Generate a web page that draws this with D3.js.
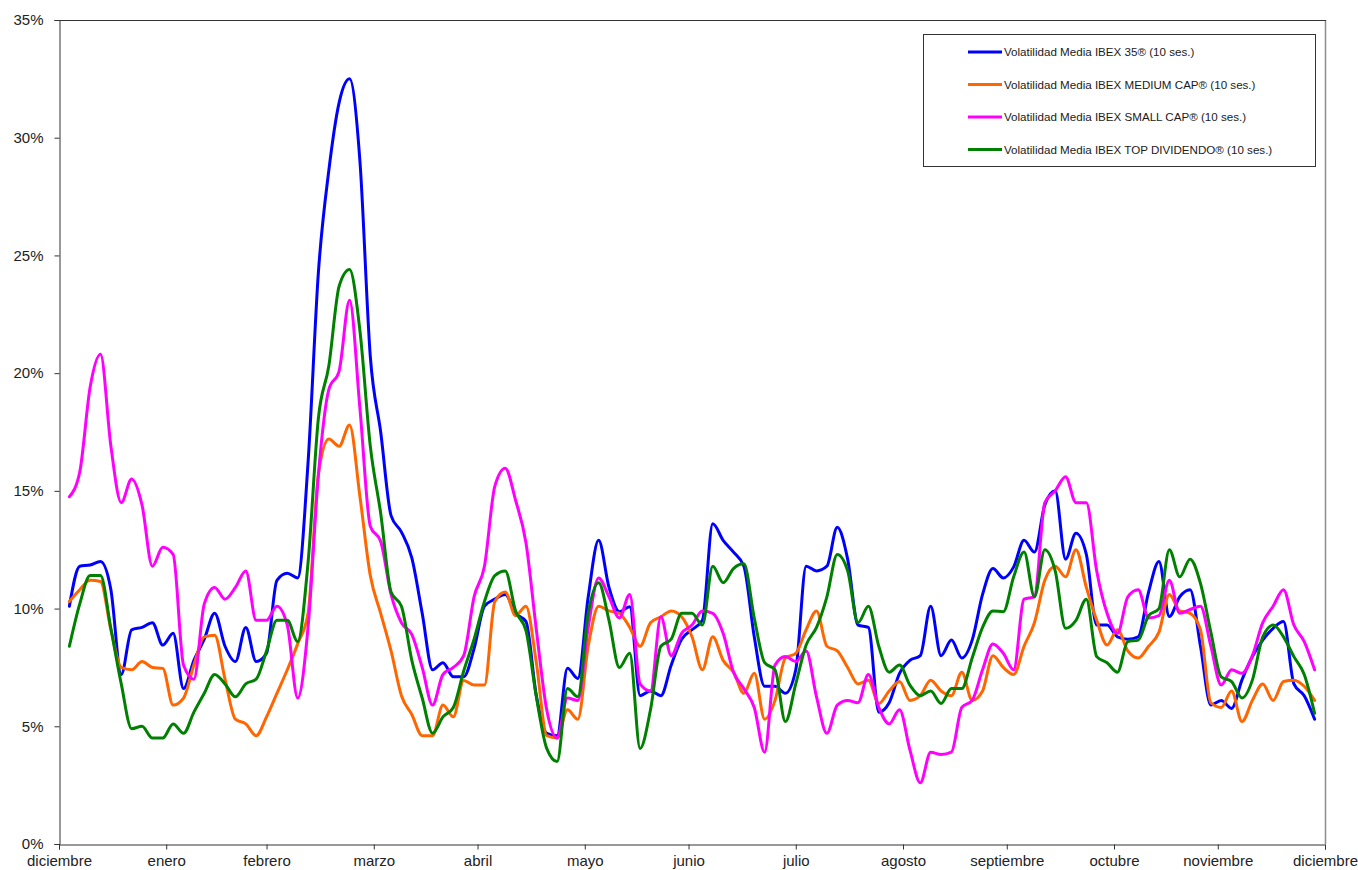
<!DOCTYPE html>
<html lang="es">
<head>
    <meta charset="UTF-8">
    <title>Volatilidad Media IBEX</title>
    <style>
        body { margin: 0; background: #fff; }
        svg { font-family: "Liberation Sans", Arial, sans-serif; }
    </style>
</head>
<body>

    <svg id="svg" width="1358" height="870"></svg>

    <script src="https://d3js.org/d3.v7.min.js"></script>
    <script>
        // etiquetas del eje x (fin de cada mes) y del eje y
        const meses = ["diciembre", "enero", "febrero", "marzo", "abril", "mayo", "junio",
            "julio", "agosto", "septiembre", "octubre", "noviembre", "diciembre"]
        const ticksY = [0, 5, 10, 15, 20, 25, 30, 35]

        // una observacion cada 3 dias, desde el 3 de enero de 2020
        const inicio = new Date(2020, 0, 3)
        const pasoDias = 3

        const ibex35 = [10.1, 11.8, 11.85, 12.0, 10.8, 7.2, 9.1, 9.2, 9.4, 8.45,
            8.95, 6.6, 7.8, 8.7, 9.8, 8.4, 7.75, 9.2, 7.75, 8.1,
            11.2, 11.5, 11.3, 16.2, 24.3, 28.6, 31.5, 32.5, 29.0, 20.7,
            17.5, 13.95, 13.25, 12.15, 9.8, 7.4, 7.7, 7.1, 7.1, 8.3,
            10.1, 10.4, 10.6, 9.8, 9.45, 6.3, 4.7, 4.6, 7.46, 7.03,
            10.5, 12.9, 10.9, 9.87, 10.08, 6.3, 6.5, 6.3, 7.6, 8.7,
            9.1, 9.5, 13.6, 12.9, 12.4, 11.8, 8.8, 6.7, 6.7, 6.4,
            7.4, 11.8, 11.6, 11.8, 13.45, 12.1, 9.3, 9.2, 5.6, 6.0,
            7.25, 7.8, 8.0, 10.1, 8.0, 8.66, 7.9, 8.66, 10.6, 11.7,
            11.3, 11.77, 12.9, 12.4, 14.4, 15.0, 12.1, 13.2, 12.3, 9.3,
            9.3, 8.8, 8.7, 8.8, 10.7, 12.0, 9.66, 10.5, 10.8, 8.4,
            5.9, 6.1, 5.76, 6.97, 7.96, 8.66, 9.16, 9.45, 6.8, 6.3,
            5.3]

        const mediumCap = [10.3, 10.8, 11.2, 11.15, 9.1, 7.5, 7.4, 7.75, 7.5, 7.46,
            5.9, 6.2, 7.6, 8.8, 8.87, 7.0, 5.3, 5.1, 4.6, 5.4,
            6.4, 7.4, 8.5, 9.8, 15.7, 17.2, 16.9, 17.8, 14.76, 11.4,
            9.8, 8.2, 6.3, 5.5, 4.6, 4.6, 5.9, 5.4, 6.95, 6.75,
            6.75, 10.3, 10.7, 9.7, 10.1, 7.7, 4.6, 4.5, 5.7, 5.3,
            8.4, 10.1, 9.9, 9.8, 9.2, 8.4, 9.4, 9.65, 9.9, 9.65,
            8.8, 7.4, 8.8, 7.8, 7.3, 6.4, 7.25, 5.3, 6.1, 7.9,
            8.1, 9.1, 9.9, 8.4, 8.2, 7.5, 6.8, 6.96, 5.97, 6.5,
            6.9, 6.1, 6.3, 6.96, 6.5, 6.3, 7.3, 6.1, 6.5, 8.0,
            7.5, 7.2, 8.4, 9.4, 11.2, 11.8, 11.35, 12.5, 10.9, 9.5,
            8.45, 9.1, 8.2, 7.9, 8.4, 9.0, 10.6, 9.9, 9.8, 9.1,
            6.0, 5.8, 6.5, 5.2, 6.1, 6.8, 6.1, 6.9, 6.96, 6.7,
            6.1]

        const smallCap = [14.75, 15.8, 19.4, 20.8, 16.9, 14.5, 15.5, 14.4, 11.8, 12.6,
            12.3, 7.6, 7.0, 10.2, 10.9, 10.4, 10.9, 11.6, 9.5, 9.5,
            10.1, 9.3, 6.2, 9.2, 15.7, 19.3, 20.1, 23.1, 18.5, 13.5,
            12.85, 10.6, 9.4, 8.9, 7.5, 5.9, 7.2, 7.5, 8.0, 10.5,
            11.8, 15.2, 15.96, 14.6, 12.8, 9.1, 5.7, 4.5, 6.2, 6.1,
            9.2, 11.3, 10.5, 9.6, 10.6, 6.8, 6.5, 9.65, 8.0, 8.95,
            9.3, 9.9, 9.8, 8.95, 7.3, 6.6, 5.8, 3.9, 7.6, 7.96,
            7.75, 8.2, 6.25, 4.7, 5.9, 6.1, 6.0, 7.2, 5.8, 5.1,
            5.7, 4.0, 2.6, 3.9, 3.8, 3.9, 5.8, 6.1, 7.4, 8.5,
            8.1, 7.4, 10.4, 10.5, 14.5, 15.0, 15.6, 14.5, 14.5, 11.6,
            9.8, 8.95, 10.5, 10.8, 9.6, 9.7, 11.2, 9.8, 9.96, 10.1,
            8.4, 6.75, 7.4, 7.25, 8.0, 9.4, 10.1, 10.8, 9.3, 8.6,
            7.4]

        const topDividendo = [8.4, 10.2, 11.4, 11.4, 9.15, 6.8, 4.9, 5.0, 4.5, 4.5,
            5.1, 4.7, 5.6, 6.4, 7.2, 6.8, 6.25, 6.8, 7.0, 8.2,
            9.5, 9.5, 8.6, 11.95, 18.1, 20.3, 23.7, 24.4, 21.8, 16.9,
            14.05, 10.7, 10.1, 7.8, 6.2, 4.7, 5.4, 5.8, 7.35, 8.7,
            10.3, 11.4, 11.6, 9.9, 9.06, 6.25, 4.06, 3.5, 6.6, 6.25,
            9.8, 11.1, 9.5, 7.5, 8.1, 4.06, 5.7, 8.4, 8.7, 9.8,
            9.8, 9.3, 11.8, 11.1, 11.7, 11.9, 9.6, 7.7, 7.4, 5.2,
            6.8, 8.45, 9.2, 10.5, 12.3, 11.6, 9.4, 10.1, 8.4, 7.3,
            7.6, 6.75, 6.3, 6.5, 5.97, 6.6, 6.6, 7.9, 9.2, 9.9,
            9.87, 11.35, 12.4, 10.5, 12.5, 11.6, 9.16, 9.5, 10.4, 7.96,
            7.7, 7.3, 8.6, 8.66, 9.7, 10.0, 12.5, 11.35, 12.1, 11.07,
            9.0, 7.1, 6.9, 6.2, 6.96, 8.8, 9.3, 8.8, 7.96, 7.2,
            5.55]

        const series = [
            { nombre: "Volatilidad Media IBEX 35® (10 ses.)", valores: ibex35, color: "#0000ff" },
            { nombre: "Volatilidad Media IBEX MEDIUM CAP® (10 ses.)", valores: mediumCap, color: "#ff6600" },
            { nombre: "Volatilidad Media IBEX SMALL CAP® (10 ses.)", valores: smallCap, color: "#ff00ff" },
            { nombre: "Volatilidad Media IBEX TOP DIVIDENDO® (10 ses.)", valores: topDividendo, color: "#008000" }
        ]

        const fechas = ibex35.map((v, i) => d3.timeDay.offset(inicio, i * pasoDias))
        const finesDeMes = meses.map((m, i) => new Date(2020, i, 0))

        const margen = { izq: 59, der: 1325, arriba: 20, abajo: 844 }

        const xscale = d3.scaleTime()
            .domain([finesDeMes[0], finesDeMes[finesDeMes.length - 1]])
            .range([margen.izq, margen.der])

        const yscale = d3.scaleLinear()
            .domain([0, 35])
            .range([margen.abajo, margen.arriba])

        const svg = d3.select("#svg")

        // marco: derecha en gris, arriba oscuro
        svg.append("line")
            .attr("x1", margen.der + 0.5).attr("x2", margen.der + 0.5)
            .attr("y1", margen.arriba).attr("y2", margen.abajo)
            .attr("stroke", "#8c8c8c").attr("stroke-width", 1.5)
        svg.append("line")
            .attr("x1", margen.izq).attr("x2", margen.der + 1)
            .attr("y1", margen.arriba + 0.5).attr("y2", margen.arriba + 0.5)
            .attr("stroke", "#333").attr("stroke-width", 1)

        // eje y
        const ejeY = svg.append("g")
            .attr("transform", `translate(${margen.izq + 0.5}, 0)`)
            .call(d3.axisLeft(yscale)
                .tickValues(ticksY)
                .tickFormat(d => d + "%")
                .tickSize(5)
                .tickPadding(11))
        ejeY.select(".domain").attr("stroke", "#333")
        ejeY.selectAll(".tick line").attr("stroke", "#333")
        ejeY.selectAll("text")
            .attr("font-size", 15)
            .attr("fill", "#222")
            .attr("font-family", "'Liberation Sans', Arial, sans-serif")

        // eje x
        const ejeX = svg.append("g")
            .attr("transform", `translate(0, ${margen.abajo + 0.5})`)
            .call(d3.axisBottom(xscale)
                .tickValues(finesDeMes)
                .tickFormat((d, i) => meses[i])
                .tickSize(5)
                .tickPadding(6))
        ejeX.select(".domain").attr("stroke", "#333")
        ejeX.selectAll(".tick line").attr("stroke", "#333")
        ejeX.selectAll("text")
            .attr("font-size", 15)
            .attr("fill", "#222")
            .attr("font-family", "'Liberation Sans', Arial, sans-serif")

        // lineas
        const linea = d3.line()
            .x((d, i) => xscale(fechas[i]))
            .y(d => yscale(d))
            .curve(d3.curveMonotoneX)

        svg.append("g")
            .selectAll("path")
            .data(series)
            .enter()
            .append("path")
            .attr("d", d => linea(d.valores))
            .attr("fill", "none")
            .attr("stroke", d => d.color)
            .attr("stroke-width", 3)
            .attr("stroke-linejoin", "round")
            .attr("stroke-linecap", "round")

        // leyenda
        const leyenda = svg.append("g")
            .attr("transform", "translate(923, 34)")

        leyenda.append("rect")
            .attr("x", 0.5).attr("y", 0.5)
            .attr("width", 392).attr("height", 132)
            .attr("fill", "#fff")
            .attr("stroke", "#333")

        const items = leyenda.selectAll(".item")
            .data(series)
            .enter()
            .append("g")
            .attr("class", "item")
            .attr("transform", (d, i) => `translate(0, ${18 + i * 32.5})`)

        items.append("line")
            .attr("x1", 45).attr("x2", 79)
            .attr("stroke", d => d.color)
            .attr("stroke-width", 3)

        items.append("text")
            .attr("x", 81)
            .attr("dy", "0.35em")
            .attr("font-size", 11.6)
            .attr("fill", "#1a1a1a")
            .text(d => d.nombre)
    </script>
</body>
</html>
